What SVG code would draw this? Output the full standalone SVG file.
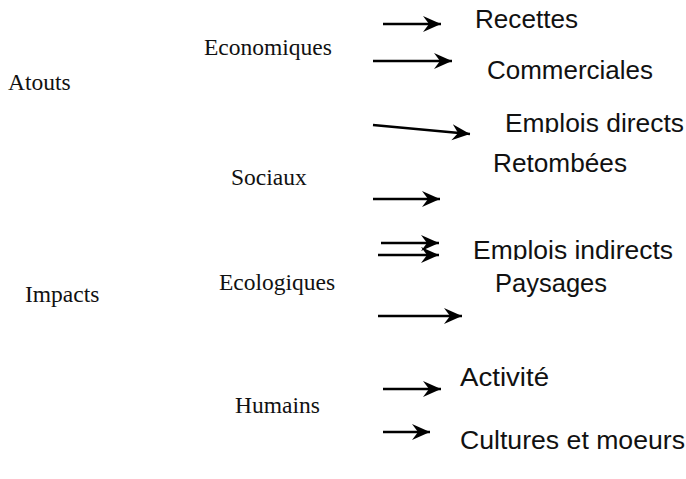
<svg xmlns="http://www.w3.org/2000/svg" width="686" height="479" viewBox="0 0 686 479">
  <style>
    .cat { font-family: "Liberation Serif", "Times New Roman", serif; font-size: 23.5px; fill: #111; }
    .item { font-family: "Liberation Sans", Arial, Helvetica, sans-serif; font-size: 25px; fill: #111; }
    .arrow { stroke: #000; stroke-width: 2.4; fill: none; marker-end: url(#head); }
  </style>
  <defs>
    <marker id="head" markerUnits="userSpaceOnUse" markerWidth="22" markerHeight="20" refX="18" refY="9" orient="auto">
      <path d="M18,9 L0,1 L6,9 L0,17 Z" fill="#000"/>
    </marker>
    <!-- the two "Emplois" lines are cut off just under their baseline -->
    <clipPath id="cutDirects"><rect x="490" y="100" width="196" height="33"/></clipPath>
    <clipPath id="cutIndirects"><rect x="460" y="226" width="226" height="34"/></clipPath>
  </defs>
  <rect width="686" height="479" fill="#fff"/>

  <g id="atouts"><text class="cat" x="8" y="90">Atouts</text></g>
  <g id="impacts"><text class="cat" x="25" y="302">Impacts</text></g>

  <g id="economiques"><text class="cat" x="204" y="55">Economiques</text></g>
  <g id="sociaux"><text class="cat" x="231" y="185">Sociaux</text></g>
  <g id="ecologiques"><text class="cat" x="219" y="290">Ecologiques</text></g>
  <g id="humains"><text class="cat" x="235" y="413">Humains</text></g>

  <g id="recettes"><text class="item" x="475" y="28" textLength="103" lengthAdjust="spacingAndGlyphs">Recettes</text></g>
  <g id="commerciales"><text class="item" x="487" y="79" textLength="166" lengthAdjust="spacingAndGlyphs">Commerciales</text></g>
  <g id="emplois-directs" clip-path="url(#cutDirects)"><text class="item" x="505" y="132" textLength="179" lengthAdjust="spacingAndGlyphs">Emplois directs</text></g>
  <g id="retombees"><text class="item" x="493" y="172" textLength="134" lengthAdjust="spacingAndGlyphs">Retombées</text></g>
  <g id="emplois-indirects" clip-path="url(#cutIndirects)"><text class="item" x="473" y="259" textLength="200" lengthAdjust="spacingAndGlyphs">Emplois indirects</text></g>
  <g id="paysages"><text class="item" x="495" y="292" textLength="112" lengthAdjust="spacingAndGlyphs">Paysages</text></g>
  <g id="activite"><text class="item" x="460" y="386" textLength="89" lengthAdjust="spacingAndGlyphs">Activité</text></g>
  <g id="cultures"><text class="item" x="460" y="449" textLength="225" lengthAdjust="spacingAndGlyphs">Cultures et moeurs</text></g>

  <g id="connectors">
    <line class="arrow" x1="383" y1="24" x2="441" y2="24"/>
    <line class="arrow" x1="373" y1="61" x2="452" y2="61"/>
    <line class="arrow" x1="373" y1="125" x2="470" y2="134"/>
    <line class="arrow" x1="373" y1="199" x2="440" y2="199"/>
    <line class="arrow" x1="381" y1="243" x2="439" y2="243"/>
    <line class="arrow" x1="378" y1="255" x2="439" y2="255"/>
    <line class="arrow" x1="378" y1="316" x2="462" y2="316"/>
    <line class="arrow" x1="383" y1="389" x2="441" y2="389"/>
    <line class="arrow" x1="383" y1="432" x2="430" y2="432"/>
  </g>
</svg>
